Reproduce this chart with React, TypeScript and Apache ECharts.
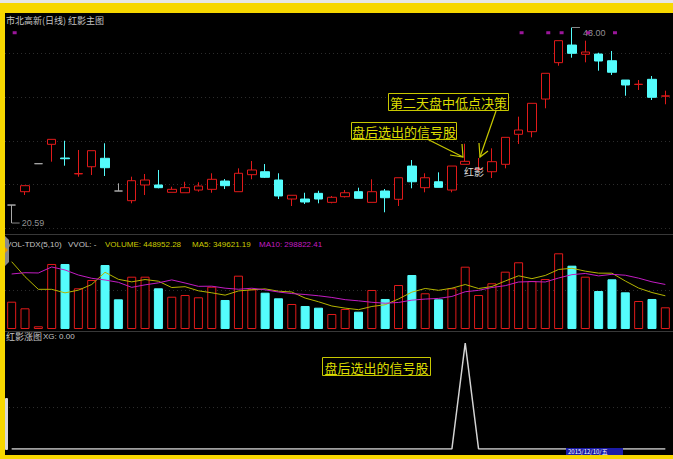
import React, { useEffect, useRef } from "react";
import * as echarts from "echarts";

const categories = [
  "2015/09/25", "2015/09/28", "2015/09/29", "2015/09/30", "2015/10/08", "2015/10/09", "2015/10/12", "2015/10/13", "2015/10/14", "2015/10/15",
  "2015/10/16", "2015/10/19", "2015/10/20", "2015/10/21", "2015/10/22", "2015/10/23", "2015/10/26", "2015/10/27", "2015/10/28", "2015/10/29",
  "2015/10/30", "2015/11/02", "2015/11/03", "2015/11/04", "2015/11/05", "2015/11/06", "2015/11/09", "2015/11/10", "2015/11/11", "2015/11/12",
  "2015/11/13", "2015/11/16", "2015/11/17", "2015/11/18", "2015/11/19", "2015/11/20", "2015/11/23", "2015/11/24", "2015/11/25", "2015/11/26",
  "2015/11/27", "2015/11/30", "2015/12/01", "2015/12/02", "2015/12/03", "2015/12/04", "2015/12/07", "2015/12/08", "2015/12/09", "2015/12/10",
];

const opens = [22.65, 24.18, 27.39, 29.61, 28.04, 26.22, 27.04, 28.01, 24.26, 23.15, 24.95, 24.95, 24.11, 24.06, 24.37, 24.45, 25.40, 24.18, 26.13, 26.47, 25.52, 23.34, 23.34, 23.99, 22.96, 23.61, 24.18, 22.96, 24.26, 23.31, 27.12, 24.64, 25.32, 24.37, 27.32, 26.72, 26.47, 27.32, 30.76, 31.06, 34.80, 38.97, 40.99, 39.93, 39.96, 39.19, 36.98, 36.47, 37.06, 35.13];
const closes = [22.65, 24.87, 27.39, 30.18, 27.96, 26.26, 28.88, 26.93, 24.26, 25.44, 25.52, 24.64, 24.45, 24.64, 24.83, 25.60, 24.87, 26.29, 26.67, 25.83, 23.69, 23.77, 23.00, 23.34, 23.54, 24.06, 23.42, 24.18, 23.49, 25.78, 25.32, 25.78, 24.68, 27.12, 27.66, 26.78, 27.62, 30.41, 31.25, 34.31, 37.75, 41.49, 40.04, 40.19, 39.16, 37.87, 36.41, 36.50, 35.00, 35.16];
const lows = [20.59, 23.80, 27.39, 27.62, 27.16, 25.90, 26.09, 25.98, 24.26, 22.85, 23.80, 24.57, 24.11, 24.06, 24.18, 24.06, 24.49, 24.18, 25.60, 25.75, 23.34, 22.54, 22.77, 22.85, 22.85, 23.51, 23.42, 22.96, 21.82, 22.54, 24.57, 24.11, 24.68, 24.11, 27.32, 26.55, 25.75, 26.86, 29.65, 30.41, 33.74, 38.62, 39.54, 39.01, 38.05, 37.56, 35.18, 35.84, 34.69, 34.20];
const highs = [22.65, 24.87, 27.39, 30.18, 30.02, 28.96, 28.88, 29.73, 25.14, 25.90, 26.21, 26.67, 24.75, 25.32, 25.26, 26.29, 25.63, 26.86, 27.70, 27.35, 26.29, 23.77, 24.06, 24.29, 23.69, 24.37, 24.64, 25.60, 24.49, 25.78, 27.81, 26.29, 26.40, 27.12, 29.68, 28.04, 29.15, 30.41, 32.78, 34.31, 37.75, 41.49, 43.00, 41.49, 40.11, 40.31, 36.98, 36.98, 37.44, 35.76];

const volumes = [565000, 428000, 56000, 1345000, 1345000, 842000, 1014000, 1324000, 614000, 1082000, 1082000, 842000, 668000, 703000, 656000, 875000, 600000, 1103000, 821000, 751000, 635000, 517000, 476000, 441000, 310000, 414000, 358000, 807000, 621000, 910000, 1117000, 739000, 614000, 842000, 1289000, 703000, 946000, 1186000, 1380000, 993000, 1034000, 1566000, 1310000, 1082000, 786000, 1028000, 759000, 579000, 621000, 448952.28];
// moving-average values at the start of the window (they depend on days before the visible range)
const ma5Head = [1392000, 1082000, 821000, 821000];
const ma10Head = [1138000, 1165000, 1159000, 1283000, 1221000, 1117000, 1049000, 1014000, 966000];

const xgValues = [0, 0, 0, 0, 0, 0, 0, 0, 0, 0, 0, 0, 0, 0, 0, 0, 0, 0, 0, 0, 0, 0, 0, 0, 0, 0, 0, 0, 0, 0, 0, 0, 0, 0, 1, 0, 0, 0, 0, 0, 0, 0, 0, 0, 0, 0, 0, 0, 0, 0];

const signalMarks = [0, 38, 40, 41, 43, 45];
const signalLevel = 42.4;
const lowIndex = 0;
const lowLabel = "20.59";
const highIndex = 42;
const highLabel = "43.00";

const RED = "#e01a1a";
const CYAN = "#54fcfc";
const GRAY = "#a8a8a8";
const YEL = "#dede00";
const MAG = "#c21cc2";
const LAT = "'Liberation Sans', Arial, sans-serif";
const CJK = "'Noto Sans CJK SC', 'Noto Sans', sans-serif";

function movingAverage(n: number, head: number[]) {
  return volumes.map((_, i) => {
    if (i < n - 1) return head[i];
    let s = 0;
    for (let k = i - n + 1; k <= i; k++) s += volumes[k];
    return s / n;
  });
}

function buildOption() {
  const ma5 = movingAverage(5, ma5Head);
  const ma10 = movingAverage(10, ma10Head);
  const isUp = (i: number) =>
    closes[i] > opens[i] || (closes[i] === opens[i] && (i === 0 || closes[i] >= closes[i - 1]));

  const candleData = categories.map((_, i) => {
    const item: any = { value: [opens[i], closes[i], lows[i], highs[i]] };
    if (opens[i] === closes[i]) item.itemStyle = { color: GRAY, borderColor: GRAY, borderColor0: GRAY, borderColorDoji: GRAY };
    return item;
  });
  const volData = volumes.map((v, i) => ({
    value: v,
    itemStyle: isUp(i)
      ? { color: "#000", borderColor: RED, borderWidth: 1 }
      : { color: CYAN, borderColor: CYAN, borderWidth: 1 },
  }));

  const gridBase = { left: 5, width: 667 };
  const xBase = { type: "category", data: categories, boundaryGap: true, show: false };

  const dots = [53, 97, 141, 184, 228, 290, 407].map((y) => ({
    type: "line",
    shape: { x1: 5, y1: y + 0.5, x2: 673, y2: y + 0.5 },
    style: { stroke: "#2c2c2c", lineWidth: 1, lineDash: [1, 3] },
    silent: true,
    z: -1,
  }));

  const box = (x: number, y: number, w: number, h: number, text: string) => [
    { type: "rect", shape: { x: x + 0.5, y: y + 0.5, width: w, height: h }, style: { fill: "#000", stroke: "#c8c800", lineWidth: 1 }, z: 20 },
    { type: "text", x: x + w / 2 + 0.5, y: y + h / 2 + 1, style: { text, fill: YEL, font: `13px ${CJK}`, align: "center", verticalAlign: "middle" }, z: 21 },
  ];

  const hdr = (x: number, text: string, fill: string) => ({
    type: "text",
    x,
    y: 244,
    style: { text, fill, font: `8px ${LAT}`, verticalAlign: "middle" },
    z: 10,
  });

  return {
    animation: false,
    backgroundColor: "#000",
    grid: [
      { ...gridBase, top: 20, height: 210 },
      { ...gridBase, top: 252, height: 77 },
      { ...gridBase, top: 343, height: 106 },
    ],
    xAxis: [
      { ...xBase, gridIndex: 0 },
      { ...xBase, gridIndex: 1 },
      { ...xBase, gridIndex: 2 },
    ],
    yAxis: [
      { type: "value", gridIndex: 0, min: 19.79, max: 43.86, show: false, splitLine: { show: false } },
      { type: "value", gridIndex: 1, min: 0, max: 1593000, show: false, splitLine: { show: false } },
      { type: "value", gridIndex: 2, min: 0, max: 1, show: false, splitLine: { show: false } },
    ],
    series: [
      {
        type: "candlestick",
        xAxisIndex: 0,
        yAxisIndex: 0,
        barWidth: 9,
        data: candleData,
        itemStyle: { color: "#000", color0: CYAN, borderColor: RED, borderColor0: CYAN, borderColorDoji: GRAY, borderWidth: 1 },
        z: 5,
      },
      {
        type: "scatter",
        xAxisIndex: 0,
        yAxisIndex: 0,
        data: signalMarks.map((i) => [i, signalLevel]),
        symbol: "rect",
        symbolSize: [4, 3],
        symbolOffset: [3, 0],
        itemStyle: { color: MAG },
        z: 8,
      },
      {
        type: "scatter",
        xAxisIndex: 0,
        yAxisIndex: 0,
        data: [[lowIndex, lows[lowIndex]]],
        symbol: "rect",
        symbolSize: [8, 1],
        symbolOffset: [4, 0],
        itemStyle: { color: GRAY },
        label: { show: true, position: "right", distance: 2, formatter: lowLabel, color: "#b8b8b8", fontSize: 9, fontFamily: LAT },
        z: 6,
      },
      {
        type: "scatter",
        xAxisIndex: 0,
        yAxisIndex: 0,
        data: [[highIndex, highs[highIndex]]],
        symbol: "rect",
        symbolSize: [8, 1],
        symbolOffset: [4, 0],
        itemStyle: { color: GRAY },
        label: { show: true, position: "right", distance: 3, offset: [0, 5], formatter: highLabel, color: "#b8b8b8", fontSize: 9, fontFamily: LAT },
        z: 6,
      },
      {
        type: "bar",
        xAxisIndex: 1,
        yAxisIndex: 1,
        barWidth: 9,
        data: volData,
        z: 2,
      },
      {
        type: "line",
        xAxisIndex: 1,
        yAxisIndex: 1,
        data: ma5,
        symbol: "none",
        lineStyle: { color: "#b4b400", width: 1 },
        z: 4,
      },
      {
        type: "line",
        xAxisIndex: 1,
        yAxisIndex: 1,
        data: ma10,
        symbol: "none",
        lineStyle: { color: MAG, width: 1 },
        z: 4,
      },
      {
        type: "line",
        xAxisIndex: 2,
        yAxisIndex: 2,
        data: xgValues,
        symbol: "none",
        lineStyle: { color: "#d4d4d4", width: 1.5 },
        z: 4,
      },
    ],
    graphic: [
      ...dots,
      { type: "line", shape: { x1: 5, y1: 234.5, x2: 673, y2: 234.5 }, style: { stroke: "#383838", lineWidth: 1 }, z: 0 },
      { type: "line", shape: { x1: 5, y1: 331.5, x2: 673, y2: 331.5 }, style: { stroke: "#383838", lineWidth: 1 }, z: 0 },
      { type: "text", x: 6, y: 20, style: { text: "市北高新(日线) 红影主图", fill: "#c4c4c4", font: `9px ${CJK}`, verticalAlign: "middle" }, z: 10 },
      hdr(6, "VOL-TDX(5,10)", "#c4c4c4"),
      hdr(68, "VVOL: -", "#c4c4c4"),
      hdr(105, "VOLUME: 448952.28", "#cccc00"),
      hdr(192, "MA5: 349621.19", "#cccc00"),
      hdr(259, "MA10: 298822.41", MAG),
      { type: "text", x: 6, y: 336, style: { text: "红影涨图", fill: "#c4c4c4", font: `9px ${CJK}`, verticalAlign: "middle" }, z: 10 },
      { type: "text", x: 43, y: 336, style: { text: "XG: 0.00", fill: "#c4c4c4", font: `8px ${LAT}`, verticalAlign: "middle" }, z: 10 },
      ...box(388, 93, 120, 17, "第二天盘中低点决策"),
      ...box(351, 122, 105, 17, "盘后选出的信号股"),
      ...box(322, 357, 108, 18, "盘后选出的信号股"),
      { type: "polyline", shape: { points: [[496, 111], [480, 157]] }, style: { stroke: "#c8c800", lineWidth: 1.2, fill: "none" }, z: 20 },
      { type: "polyline", shape: { points: [[479, 143], [480, 157], [488, 151]] }, style: { stroke: "#c8c800", lineWidth: 1.2, fill: "none" }, z: 20 },
      { type: "polyline", shape: { points: [[427, 139], [463, 157]] }, style: { stroke: "#c8c800", lineWidth: 1.2, fill: "none" }, z: 20 },
      { type: "polyline", shape: { points: [[450, 155], [463, 157], [462, 144]] }, style: { stroke: "#c8c800", lineWidth: 1.2, fill: "none" }, z: 20 },
      { type: "text", x: 474, y: 171, style: { text: "红影", fill: "#d8d8d8", font: `10px ${CJK}`, align: "center", verticalAlign: "middle" }, z: 22 },
      { type: "polygon", shape: { points: [[5, 236], [9, 240], [9, 262], [5, 266]] }, style: { fill: "#8a8a8a" }, z: 30 },
      { type: "polygon", shape: { points: [[5, 247], [8, 250], [5, 253]] }, style: { fill: "#e89a00" }, z: 31 },
      { type: "rect", shape: { x: 5, y: 398, width: 3, height: 52, r: 1 }, style: { fill: "#d8d8d8" }, z: 30 },
      { type: "rect", shape: { x: 566, y: 448, width: 57, height: 8 }, style: { fill: "#1c1ca8" }, z: 30 },
      { type: "text", x: 568, y: 451.5, style: { text: "2015/12/10/五", fill: "#ffffff", font: `6px ${CJK}`, verticalAlign: "middle" }, z: 31 },
      { type: "rect", shape: { x: 0, y: 0, width: 673, height: 3 }, style: { fill: "#e6e6e6" }, z: 100 },
      { type: "rect", shape: { x: 0, y: 3, width: 673, height: 10 }, style: { fill: "#f7d700" }, z: 100 },
      { type: "rect", shape: { x: 0, y: 3, width: 5, height: 456 }, style: { fill: "#f7d700" }, z: 100 },
      { type: "rect", shape: { x: 0, y: 455, width: 673, height: 4 }, style: { fill: "#f7d700" }, z: 100 },
    ],
  };
}

export default function App() {
  const ref = useRef<HTMLDivElement>(null);
  useEffect(() => {
    document.body.style.margin = "0";
    const chart = echarts.init(ref.current as HTMLDivElement, undefined, { renderer: "svg" });
    chart.setOption(buildOption() as any);
    return () => chart.dispose();
  }, []);
  return <div ref={ref} style={{ width: 673, height: 459, background: "#000" }} />;
}
